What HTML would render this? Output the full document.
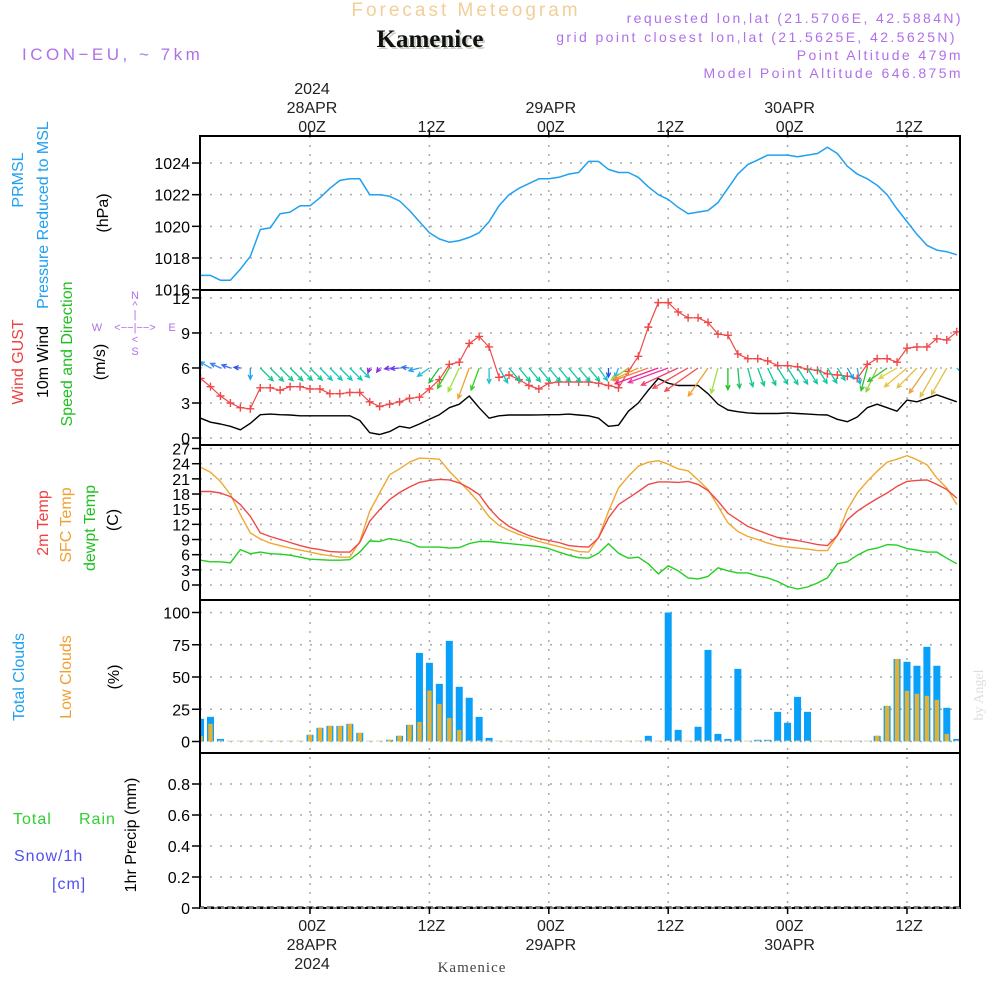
<!DOCTYPE html>
<html><head><meta charset="utf-8"><title>Meteogram Kamenice</title>
<style>
html,body{margin:0;padding:0;background:#fff;}
svg{display:block;font-family:"Liberation Sans",sans-serif;}
</style></head>
<body>
<svg id="chart" width="1000" height="1000" viewBox="0 0 1000 1000" xmlns="http://www.w3.org/2000/svg">
<defs><clipPath id="plotclip"><rect x="200" y="136" width="760" height="772"/></clipPath></defs>
<rect x="0" y="0" width="1000" height="1000" fill="#fff"/>
<!-- header -->
<text x="466" y="16" text-anchor="middle" font-size="19" fill="#f2cf98" letter-spacing="3">Forecast Meteogram</text>
<text x="432" y="49" text-anchor="middle" font-size="25" font-weight="bold" font-family="Liberation Serif, serif" fill="#c8d0c0">Kamenice</text>
<text x="430" y="47" text-anchor="middle" font-size="25" font-weight="bold" font-family="Liberation Serif, serif" fill="#111">Kamenice</text>
<text x="22" y="60" font-size="17" fill="#b070e8" letter-spacing="3.5">ICON−EU, ~ 7km</text>
<g font-size="14" fill="#b070e8" text-anchor="end" letter-spacing="2.4">
<text x="963" y="23">requested lon,lat (21.5706E, 42.5884N)</text>
<text x="957" y="42">grid point closest lon,lat (21.5625E, 42.5625N)</text>
<text x="963" y="60">Point Altitude 479m</text>
<text x="963" y="78">Model Point Altitude 646.875m</text>
</g>
<text transform="translate(983,695) rotate(-90)" text-anchor="middle" font-size="14" font-family="Liberation Serif, serif" fill="#ddd">by Angel</text>

<!-- left labels -->
<g font-size="16">
<text transform="translate(23,180) rotate(-90)" text-anchor="middle" fill="#20a0f0">PRMSL</text>
<text transform="translate(48,215) rotate(-90)" text-anchor="middle" fill="#20a0f0">Pressure Reduced to MSL</text>
<text transform="translate(108,213) rotate(-90)" text-anchor="middle" fill="#000">(hPa)</text>
</g>
<g font-size="16">
<text transform="translate(23,362) rotate(-90)" text-anchor="middle" fill="#f04040">Wind GUST</text>
<text transform="translate(48,362) rotate(-90)" text-anchor="middle" fill="#000">10m Wind</text>
<text transform="translate(72,354) rotate(-90)" text-anchor="middle" fill="#20c020">Speed and Direction</text>
<text transform="translate(105,362) rotate(-90)" text-anchor="middle" fill="#000">(m/s)</text>
</g>
<g font-size="11" fill="#b070e8" text-anchor="middle">
<text x="135" y="299">N</text><text x="135" y="309">^</text><text x="135" y="318">|</text>
<text x="97" y="331">W</text><text x="135" y="331">&lt;−−|−−&gt;</text><text x="172" y="331">E</text>
<text x="135" y="343">&lt;</text><text x="135" y="355">S</text>
</g>
<g font-size="16">
<text transform="translate(48,523) rotate(-90)" text-anchor="middle" fill="#f04040">2m Temp</text>
<text transform="translate(71,525) rotate(-90)" text-anchor="middle" fill="#f0a030">SFC Temp</text>
<text transform="translate(95,528) rotate(-90)" text-anchor="middle" fill="#20c020">dewpt Temp</text>
<text transform="translate(118,520) rotate(-90)" text-anchor="middle" fill="#000">(C)</text>
</g>
<g font-size="16">
<text transform="translate(24,677) rotate(-90)" text-anchor="middle" fill="#20a0f0">Total Clouds</text>
<text transform="translate(71,677) rotate(-90)" text-anchor="middle" fill="#f0a030">Low Clouds</text>
<text transform="translate(119,677) rotate(-90)" text-anchor="middle" fill="#000">(%)</text>
</g>
<g font-size="16">
<text transform="translate(136,835) rotate(-90)" text-anchor="middle" fill="#000">1hr Precip (mm)</text>
<text x="13" y="824" fill="#30d030" letter-spacing="1">Total</text>
<text x="79" y="824" fill="#30d030" letter-spacing="1">Rain</text>
<text x="14" y="861" fill="#5050f0" letter-spacing="1">Snow/1h</text>
<text x="52" y="889" fill="#5050f0" letter-spacing="1">[cm]</text>
</g>
<text x="472" y="972" text-anchor="middle" font-size="15" font-family="Liberation Serif, serif" fill="#444" letter-spacing="1">Kamenice</text>

<g id="grid"></g>
<g id="marks" clip-path="url(#plotclip)"></g>
<g id="frames"></g>
<g id="axes"></g>
</svg>
<script>
// ---- data (hourly, h = -11 .. 65 relative to 28APR 00Z) ----
const hours = [-11,-10,-9,-8,-7,-6,-5,-4,-3,-2,-1,0,1,2,3,4,5,6,7,8,9,10,11,12,13,14,15,16,17,18,19,20,21,22,23,24,25,26,27,28,29,30,31,32,33,34,35,36,37,38,39,40,41,42,43,44,45,46,47,48,49,50,51,52,53,54,55,56,57,58,59,60,61,62,63,64,65];
const pressure = [1016.9,1016.9,1016.6,1016.6,1017.3,1018.1,1019.8,1019.9,1020.8,1020.9,1021.3,1021.3,1021.8,1022.4,1022.9,1023.0,1023.0,1022.0,1022.0,1021.9,1021.6,1021.0,1020.3,1019.6,1019.2,1019.0,1019.1,1019.3,1019.6,1020.3,1021.3,1022.0,1022.4,1022.7,1023.0,1023.0,1023.1,1023.3,1023.4,1024.1,1024.1,1023.6,1023.4,1023.4,1023.1,1022.5,1022.0,1021.7,1021.2,1020.8,1020.9,1021.0,1021.5,1022.4,1023.3,1023.9,1024.2,1024.5,1024.5,1024.5,1024.4,1024.5,1024.6,1025.0,1024.6,1023.8,1023.3,1023.0,1022.6,1022.0,1021.1,1020.3,1019.5,1018.8,1018.5,1018.4,1018.2];
const gust = [5.1,4.4,3.6,3.0,2.6,2.5,4.3,4.3,4.1,4.4,4.4,4.2,4.2,3.8,3.8,3.9,3.9,3.1,2.7,2.9,3.1,3.4,3.5,4.2,5.0,6.3,6.5,8.1,8.7,7.8,5.2,5.4,5.0,4.5,4.2,4.7,4.8,4.8,4.8,4.8,4.7,4.5,4.3,5.7,7.0,9.5,11.6,11.6,10.8,10.3,10.3,9.9,8.9,8.8,7.2,6.8,6.8,6.6,6.2,6.2,6.1,5.9,5.8,5.5,5.4,5.3,5.1,6.3,6.8,6.8,6.5,7.7,7.8,7.8,8.5,8.4,9.1];
const windSpeed = [1.7,1.35,1.2,1.0,0.7,1.25,2.0,2.05,2.0,1.97,1.9,1.9,1.9,1.9,1.9,1.9,1.5,0.45,0.3,0.55,1.0,0.85,1.2,1.6,2.0,2.6,2.9,3.6,2.6,1.7,1.9,1.97,1.97,1.97,1.98,2.0,2.0,2.05,1.97,1.9,1.7,1.0,1.1,2.3,3.0,4.1,5.1,4.7,4.5,4.5,4.5,3.8,2.9,2.4,2.25,2.15,2.1,2.1,2.1,2.15,2.1,2.05,2.0,1.97,1.6,1.4,1.8,2.6,2.9,2.6,2.3,3.25,3.1,3.4,3.7,3.4,3.1];
const windBearing = [305,300,295,290,275,180,135,135,135,135,135,135,135,135,135,135,135,200,215,260,265,275,255,235,215,210,205,200,200,180,150,140,140,140,140,140,140,140,140,140,145,180,200,235,245,250,250,250,245,240,235,215,195,180,175,165,160,155,148,148,148,148,148,148,148,150,170,195,205,235,240,230,225,215,210,210,135];
const windColor = ["#20b0e0","#2a9df0","#3a80f0","#3a6af0","#3050f0","#20a0f0","#10c890","#10c890","#10c890","#10c890","#10c890","#10c890","#10c8b8","#10c8b8","#10c8b8","#10c8b8","#10c8b8","#8a2be2","#8a2be2","#7a30e8","#5a40f0","#3070f0","#20a0f0","#20c0d0","#20c040","#30d020","#a0e040","#f0a030","#30d020","#20c0d0","#20c0c0","#10c8a0","#10c8a0","#10c8a0","#10c8a0","#10c8a0","#10c8a0","#10c8a0","#10c8a0","#10c8a0","#20c0c0","#2050f0","#20b0f0","#90d030","#f0a030","#f08040","#f02090","#f030a0","#f04070","#f05050","#f05050","#f0a030","#a0e040","#20c020","#20c060","#10c890","#10c890","#10c890","#10c8a0","#10c8a0","#10c8a0","#10c8a0","#10c8a0","#10c8a0","#10c8a0","#20a0f0","#20b0e0","#30c030","#90d040","#30c030","#e0d040","#e8c040","#e0c040","#e8a040","#e0c040","#e0c040","#20c0d0"];
const temp2m = [18.5,18.5,18.2,17.5,15.9,13.6,10.3,9.6,9.0,8.4,7.8,7.3,7.0,6.6,6.5,6.5,8.4,12.6,14.9,16.9,18.3,19.4,20.3,20.7,20.9,20.8,20.2,19.2,17.9,15.2,13.1,11.6,10.6,9.8,9.2,8.8,8.4,7.8,7.6,7.5,9.3,13.3,15.9,17.2,18.5,19.9,20.4,20.4,20.3,20.5,19.9,18.7,16.6,14.2,12.9,11.6,10.8,10.1,9.4,9.1,8.8,8.4,8.0,7.8,9.8,12.9,14.6,15.9,17.1,18.2,19.5,20.5,20.7,20.8,19.9,18.9,17.2];
const tempSfc = [23.3,22.3,20.5,17.9,13.9,10.3,9.1,8.3,7.8,7.3,6.9,6.5,6.1,5.8,5.5,5.5,8.6,14.6,18.2,21.8,23.0,24.3,25.1,25.0,24.9,22.5,20.5,18.5,16.2,13.5,11.8,10.8,10.0,9.3,8.6,8.1,7.6,7.1,6.6,6.5,9.4,14.6,19.2,21.5,23.5,24.3,24.6,23.9,23.0,22.6,20.8,18.9,15.6,12.3,10.6,9.6,9.0,8.3,7.8,7.5,7.3,7.1,6.8,6.8,9.8,14.9,18.2,20.5,22.5,24.3,24.9,25.6,24.8,23.8,21.2,19.2,15.9];
const tempDew = [4.9,4.6,4.6,4.4,7.0,6.2,6.5,6.2,6.1,5.9,5.5,5.1,5.0,4.9,4.9,5.0,6.5,8.7,8.6,9.2,8.8,8.4,7.5,7.5,7.5,7.3,7.4,8.2,8.6,8.6,8.4,8.2,8.0,7.8,7.6,7.2,6.5,5.9,5.4,5.3,6.3,8.2,6.3,5.3,5.5,4.2,2.2,3.8,2.8,1.4,1.2,1.7,3.4,2.8,2.4,2.4,1.8,1.4,0.7,-0.3,-0.8,-0.4,0.4,1.4,4.2,4.6,5.9,6.9,7.3,8.0,7.9,7.2,6.9,6.5,6.5,5.3,4.2];
const cloudTotal = [17.6,19.1,2,0,0,0,0,0,0,0,0,5.2,10.6,12.1,12.1,13.7,6.7,0,0,1.3,4.4,12.9,68.7,61,44.7,78,42.4,33.9,19.1,2.8,0,0,0,0,0,0,0,0,0,0,0,0,0,0,0,4.4,0,100,9,0,11.4,71,5.9,2,56.3,0,1.3,1.3,23,14.5,34.6,23,0,0,0,0,0,0,4.4,27.6,64,61.8,58.7,73.4,58.7,26.1,2];
const cloudLow = [4.4,13.7,0,0,0,0,0,0,0,0,0,5.2,10.6,12.1,12.1,13.7,6.7,0,0,1.3,4.4,12.9,15.2,39.5,29.2,18.3,9,0,0,0,0,0,0,0,0,0,0,0,0,0,0,0,0,0,0,0,0,0,0,0,0,0,0,0,0,0,0,0,0,0,0,0,0,0,0,0,0,0,4.4,27.6,64,39.3,37,35.4,32.3,5.9,0];
const precip = [0,0,0,0,0,0,0,0,0,0,0,0,0,0,0,0,0,0,0,0,0,0,0,0,0,0,0,0,0,0,0,0,0,0,0,0,0,0,0,0,0,0,0,0,0,0,0,0,0,0,0,0,0,0,0,0,0,0,0,0,0,0,0,0,0,0,0,0,0,0,0,0,0,0,0,0,0];
const pressureTicks = [1016,1018,1020,1022,1024];
const windTicks = [0,3,6,9,12];
const tempTicks = [0,3,6,9,12,15,18,21,24,27];
const cloudTicks = [0,25,50,75,100];
const precipTicks = ["0","0.2","0.4","0.6","0.8"];
const timeTickHours = [0,12,24,36,48,60];
const timeTickHour = ["00Z","12Z","00Z","12Z","00Z","12Z"];
const timeTickDay = ["28APR","","29APR","","30APR",""];
const timeTickYear = ["2024","","","","",""];

// ---- axis functions ----
const X0 = 200, X1 = 960;
const xH = h => 310 + h * 9.95;
const yP = v => 258 - (v - 1018) * 15.83;
const yW = v => 438 - v * 11.67;
const yT = v => 585 - v * 5.054;
const yC = v => 741.5 - v * 1.29;
const yR = v => 908 - v * 155;
const panels = [[136,290],[290,445],[445,600],[600,753],[753,908]];

const NS = "http://www.w3.org/2000/svg";
function mk(tag, attrs, parent){
  const e = document.createElementNS(NS, tag);
  for (const k in attrs) e.setAttribute(k, attrs[k]);
  parent.appendChild(e);
  return e;
}
const grid = document.getElementById('grid');
const marks = document.getElementById('marks');
const frames = document.getElementById('frames');
const axes = document.getElementById('axes');

timeTickHours.forEach(h => {
  const l = mk('line', {x1:xH(h), x2:xH(h), y1:136, y2:908, stroke:'#aaa', 'stroke-width':1.5, 'stroke-dasharray':'2,7'}, grid);
  
  
});
function yAxis(ticks, fn, name){
  ticks.forEach(t => {
    const v = parseFloat(t);
    const y = fn(v);
    const g = mk('line', {x1:X0, x2:X1, y1:y, y2:y, stroke:'#aaa', 'stroke-width':1.5, 'stroke-dasharray':'2,8'}, grid);
    
    
    const tk = mk('line', {x1:192, x2:X0, y1:y, y2:y, stroke:'#000', 'stroke-width':1.5}, axes);
    
    
    const tx = mk('text', {x:190, y:y+6, 'text-anchor':'end', 'font-size':16, fill:'#000'}, axes);
    
    
    tx.textContent = String(t);
  });
}
yAxis(pressureTicks, yP, 'pressure');
yAxis(windTicks, yW, 'wind');
yAxis(tempTicks, yT, 'temp');
yAxis(cloudTicks, yC, 'cloud');
yAxis(precipTicks, yR, 'precip');

timeTickHours.forEach((h, i) => {
  const x = xH(h) + 2;
  const tt = mk('line', {x1:x-2, x2:x-2, y1:130, y2:136, stroke:'#000', 'stroke-width':1.5}, axes);
  
  
  const tb = mk('line', {x1:x-2, x2:x-2, y1:908, y2:914, stroke:'#000', 'stroke-width':1.5}, axes);
  
  
  const lines = [[timeTickYear[i], 94],[timeTickDay[i], 113],[timeTickHour[i], 132]];
  lines.forEach(([s, y]) => {
    if (!s) return;
    const t = mk('text', {x:x, y:y, 'text-anchor':'middle', 'font-size':16, fill:'#222'}, axes);
    
    
    t.textContent = s;
  });
  const blines = [[timeTickHour[i], 931],[timeTickDay[i], 950],[timeTickYear[i], 969]];
  blines.forEach(([s, y]) => {
    if (!s) return;
    const t = mk('text', {x:x, y:y, 'text-anchor':'middle', 'font-size':16, fill:'#222'}, axes);
    
    
    t.textContent = s;
  });
});

function polyline(vals, fn, color, name, w){
  const pts = vals.map((v, i) => xH(hours[i]).toFixed(1) + ',' + fn(v).toFixed(1)).join(' ');
  const p = mk('polyline', {points:pts, fill:'none', stroke:color, 'stroke-width':w || 1.4, 'stroke-linejoin':'round'}, marks);
  
  
}
cloudTotal.forEach((v, i) => {
  const x = xH(hours[i]);
  const h = Math.max(1, v * 1.29);
  const b = mk('rect', {x:x-3.5, y:741.5-h, width:7, height:h, fill: v > 0 ? '#08a0f8' : '#9cd4f8'}, marks);
  
  
});
cloudLow.forEach((v, i) => {
  const x = xH(hours[i]);
  const h = Math.max(1, v * 1.29);
  const b = mk('rect', {x:x-2.2, y:741.5-h, width:4.4, height:h, fill: v > 0 ? '#e8b030' : '#f0d090'}, marks);
  
  
});
precip.forEach((v, i) => {
  const x = xH(hours[i]);
  const h = Math.max(1.5, v * 155);
  const b = mk('rect', {x:x-3.5, y:907-h+1, width:7, height:h, fill:'#000'}, marks);
  
  
});

polyline(pressure, yP, '#20a0f0', 'pressure-line', 1.5);
polyline(windSpeed, yW, '#000', 'wind-speed-line', 1.4);
polyline(gust, yW, '#f04848', 'wind-gust-line', 1.2);
gust.forEach((v, i) => {
  const x = xH(hours[i]), y = yW(v);
  const m = mk('path', {d:`M${x-4},${y}H${x+4}M${x},${y-4}V${y+4}`, stroke:'#f04848', 'stroke-width':1.4}, marks);
  
  
});
windBearing.forEach((b, i) => {
  const x = xH(hours[i]), y = yW(6);
  const L = Math.max(5, windSpeed[i] * 9);
  const r = b * Math.PI / 180;
  const dx = Math.sin(r), dy = -Math.cos(r);
  const ex = x + dx * L, ey = y + dy * L;
  const a = 0.45, hl = 5;
  const h1x = ex - hl * (dx * Math.cos(a) - dy * Math.sin(a)), h1y = ey - hl * (dy * Math.cos(a) + dx * Math.sin(a));
  const h2x = ex - hl * (dx * Math.cos(a) + dy * Math.sin(a)), h2y = ey - hl * (dy * Math.cos(a) - dx * Math.sin(a));
  const p = mk('path', {d:`M${x},${y}L${ex},${ey}M${h1x},${h1y}L${ex},${ey}L${h2x},${h2y}`, stroke:windColor[i], 'stroke-width':1.3, fill:'none'}, marks);
  
  
});
polyline(tempDew, yT, '#20d020', 'dewpoint-line', 1.4);
polyline(tempSfc, yT, '#f0a830', 'sfc-temp-line', 1.4);
polyline(temp2m, yT, '#f04848', 'temp-2m-line', 1.4);

panels.forEach(([t, b], i) => {
  const r = mk('rect', {x:X0, y:t, width:X1-X0, height:b-t, fill:'none', stroke:'#000', 'stroke-width':2}, frames);
  
  
});
const bl = mk('line', {x1:X0, x2:X1, y1:908, y2:908, stroke:'#fff', 'stroke-width':1, 'stroke-dasharray':'4,3'}, frames);


</script>
</body></html>
